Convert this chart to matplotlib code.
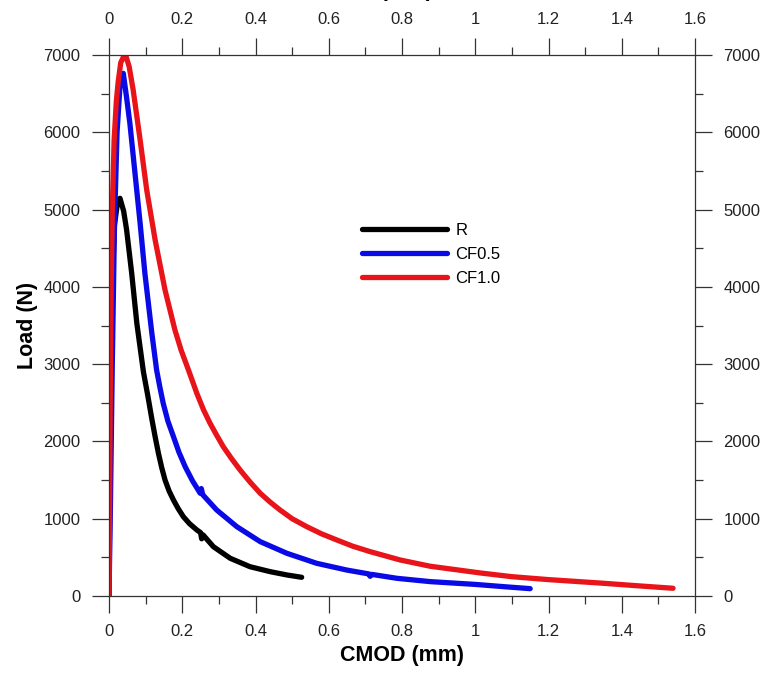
import matplotlib
matplotlib.use("Agg")
import matplotlib.pyplot as plt
from matplotlib.ticker import MultipleLocator

plt.rcParams['font.family'] = ['Liberation Sans', 'DejaVu Sans']

# CMOD (mm) / Load (N)
r_x = [0, 0.004, 0.008, 0.015, 0.022, 0.030, 0.040, 0.048, 0.062, 0.076, 0.094,
       0.106, 0.117, 0.126, 0.135, 0.144, 0.153, 0.164, 0.176, 0.189, 0.203,
       0.220, 0.240, 0.250, 0.253, 0.257, 0.285, 0.331, 0.385, 0.440, 0.486, 0.526]
r_y = [0, 2500, 4000, 4800, 5050, 5146, 4980, 4740, 4175, 3528, 2900,
       2590, 2290, 2060, 1846, 1660, 1501, 1360, 1242, 1130, 1026,
       935, 854, 820, 740, 790, 638, 488, 379, 315, 272, 242]

cf05_x = [0, 0.004, 0.009, 0.015, 0.022, 0.030, 0.039, 0.048, 0.057, 0.071, 0.085,
          0.098, 0.117, 0.130, 0.139, 0.148, 0.161, 0.176, 0.191, 0.208, 0.228,
          0.249, 0.252, 0.256, 0.294, 0.349, 0.413, 0.486, 0.567, 0.649, 0.710,
          0.713, 0.717, 0.786, 0.877, 1.000, 1.080, 1.150]
cf05_y = [0, 1200, 3000, 4800, 6000, 6600, 6763, 6450, 6116, 5469, 4822,
          4175, 3400, 2924, 2700, 2493, 2260, 2062, 1860, 1673, 1490,
          1329, 1390, 1310, 1113, 897, 703, 552, 423, 336, 285,
          255, 280, 229, 186, 150, 120, 95]

cf10_x = [0, 0.002, 0.004, 0.006, 0.009, 0.014, 0.020, 0.025, 0.032, 0.044, 0.055,
          0.066, 0.085, 0.103, 0.126, 0.153, 0.180, 0.197, 0.217, 0.240, 0.258,
          0.276, 0.294, 0.312, 0.335, 0.358, 0.385, 0.413, 0.440, 0.467, 0.500,
          0.540, 0.580, 0.622, 0.665, 0.713, 0.795, 0.877, 1.014, 1.100, 1.200,
          1.340, 1.450, 1.540]
cf10_y = [0, 1500, 3000, 4000, 5000, 5900, 6400, 6650, 6900, 7020, 6850,
          6547, 5900, 5253, 4606, 3959, 3442, 3180, 2924, 2620, 2410,
          2234, 2080, 1932, 1775, 1630, 1475, 1329, 1215, 1113, 1000,
          897, 805, 725, 645, 574, 466, 385, 298, 250, 212,
          168, 130, 100]

fig = plt.figure(figsize=(7.64, 6.73), dpi=100)
ax = fig.add_axes([109/764, 77/673, 586/764, 541/673])

ax.plot(r_x, r_y, color='black', lw=3.8, label='R', solid_capstyle='round', solid_joinstyle='round')
ax.plot(cf05_x, cf05_y, color='#0a0ae6', lw=3.8, label='CF0.5', solid_capstyle='round', solid_joinstyle='round')
ax.plot(cf10_x, cf10_y, color='#e8141a', lw=3.8, label='CF1.0', solid_capstyle='round', solid_joinstyle='round')

ax.set_xlim(0, 1.6)
ax.set_ylim(0, 7000)
ax.xaxis.set_major_locator(MultipleLocator(0.2))
ax.xaxis.set_minor_locator(MultipleLocator(0.1))
ax.yaxis.set_major_locator(MultipleLocator(1000))
ax.yaxis.set_minor_locator(MultipleLocator(500))
ax.xaxis.set_major_formatter(plt.FuncFormatter(lambda v, p: ('%.1f' % v).rstrip('0').rstrip('.')))

ax.tick_params(which='both', direction='out', top=True, right=True,
               labeltop=True, labelright=True, width=0.9, color='#333333',
               labelsize=12, labelcolor='#222222')
ax.tick_params(which='major', length=12.5, pad=8)
ax.tick_params(which='minor', length=6)
for s in ax.spines.values():
    s.set_linewidth(0.9)
    s.set_color('#333333')

ax.set_xlabel('CMOD (mm)', fontsize=15.5, fontweight='bold', labelpad=4)
ax.set_ylabel('Load (N)', fontsize=15.5, fontweight='bold', labelpad=4)
fig.text(0.485, 1.014, 'CMOD (mm)', fontsize=15.5, fontweight='bold', ha='center', va='center')

ax.legend(loc='upper left', bbox_to_anchor=(0.432, 0.69), frameon=False,
          fontsize=12, handlelength=5.1, handletextpad=0.5, labelspacing=0.55,
          borderpad=0, borderaxespad=0)

fig.savefig('out.png', dpi=100)
